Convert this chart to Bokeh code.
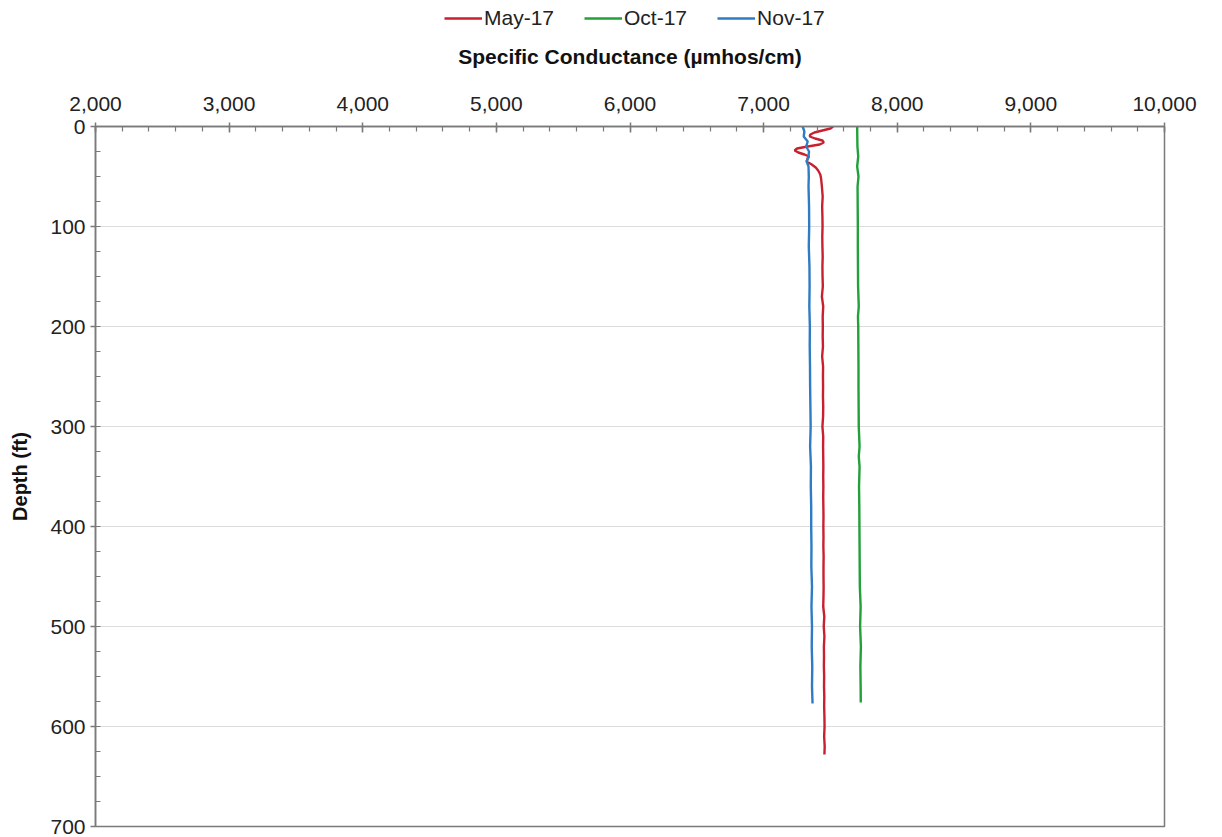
from bokeh.plotting import figure
from bokeh.layouts import column
from bokeh.models import (Range1d, LinearAxis, NumeralTickFormatter, FixedTicker,
                          Legend, LegendItem, ColumnDataSource, Grid)
from bokeh.embed import file_html
from bokeh.resources import INLINE

# ---------------- data ----------------
series_names = ["May-17", "Oct-17", "Nov-17"]
series_colors = ["#c8202f", "#22a03a", "#2f7cc4"]

may_depth = [0, 2, 4, 6, 8, 10, 12, 14, 16, 18, 20, 22, 24, 26, 28, 30, 32, 35, 38, 41, 44, 48, 52,
             60, 70, 80, 90, 100, 110, 120, 130, 140, 150, 160, 170, 180, 190, 200, 210, 220, 230,
             240, 250, 260, 270, 280, 290, 300, 310, 320, 330, 340, 350, 360, 370, 380, 390, 400,
             410, 420, 430, 440, 450, 460, 470, 480, 490, 500, 510, 520, 530, 540, 550, 560, 570,
             580, 590, 600, 610, 620, 628]
may_cond = [7520, 7500, 7440, 7380, 7350, 7345, 7385, 7440, 7450, 7420, 7330, 7250, 7232, 7260,
            7305, 7340, 7330, 7322, 7360, 7390, 7408, 7424, 7430,
            7436, 7442, 7438, 7440, 7441, 7439, 7440, 7442, 7440, 7441, 7443, 7436, 7446, 7442,
            7443, 7442, 7444, 7438, 7445, 7444, 7445, 7444, 7446, 7445, 7440, 7446, 7445, 7446,
            7447, 7446, 7447, 7446, 7447, 7448, 7447, 7448, 7447, 7449, 7448, 7448, 7449, 7448,
            7446, 7454, 7450, 7455, 7451, 7452, 7451, 7453, 7452, 7454, 7453, 7455, 7456, 7453,
            7457, 7455]

oct_depth = [0, 20, 30, 40, 50, 60, 80, 100, 120, 140, 160, 180, 190, 200, 220, 240, 260, 280,
             300, 320, 330, 340, 360, 380, 400, 420, 440, 460, 480, 500, 520, 540, 560, 576]
oct_cond = [7700, 7702, 7708, 7700, 7710, 7703, 7704, 7705, 7705, 7706, 7707, 7712, 7706, 7708,
            7709, 7710, 7710, 7711, 7712, 7718, 7712, 7718, 7714, 7716, 7717, 7718, 7719, 7720,
            7726, 7722, 7728, 7724, 7726, 7727]

nov_depth = [0, 5, 10, 15, 20, 25, 30, 35, 40, 50, 60, 80, 100, 120, 140, 160, 180, 200, 220,
             240, 260, 280, 300, 320, 340, 360, 380, 400, 420, 440, 460, 480, 500, 520, 540, 560, 577]
nov_cond = [7292, 7305, 7300, 7330, 7318, 7340, 7335, 7322, 7336, 7338, 7336, 7340, 7341, 7338,
            7343, 7344, 7342, 7346, 7345, 7347, 7348, 7350, 7352, 7348, 7354, 7353, 7356, 7356,
            7358, 7357, 7362, 7358, 7362, 7360, 7364, 7362, 7366]

x_ticks = [2000, 3000, 4000, 5000, 6000, 7000, 8000, 9000, 10000]
y_ticks = [0, 100, 200, 300, 400, 500, 600, 700]

FONT = "Liberation Sans"
AXIS_COL = "#7a7a7a"
LEG_H = 40

p = figure(width=1214, height=836 - LEG_H, output_backend="svg", toolbar_location=None,
           x_range=Range1d(2000, 10000), y_range=Range1d(700, 0),
           x_axis_location=None, y_axis_location=None,
           min_border_left=95, min_border_right=50, min_border_top=126 - LEG_H,
           min_border_bottom=10)

p.outline_line_color = AXIS_COL
p.outline_line_width = 1.5
p.background_fill_color = "white"
p.border_fill_color = "white"

xaxis = LinearAxis(ticker=FixedTicker(ticks=x_ticks,
                                      minor_ticks=list(range(2000, 10001, 200))),
                   formatter=NumeralTickFormatter(format="0,0"),
                   axis_label="Specific Conductance (µmhos/cm)")
xaxis.axis_line_color = AXIS_COL
xaxis.axis_line_width = 1.5
xaxis.major_tick_line_color = AXIS_COL
xaxis.major_tick_line_width = 1.5
xaxis.minor_tick_line_color = AXIS_COL
xaxis.minor_tick_line_width = 1.2
xaxis.major_tick_out = 4
xaxis.major_tick_in = 6
xaxis.minor_tick_out = 0
xaxis.minor_tick_in = 5
xaxis.major_label_text_font = FONT
xaxis.major_label_text_font_size = "21px"
xaxis.major_label_text_color = "#222222"
xaxis.major_label_standoff = 12
xaxis.axis_label_text_font = FONT
xaxis.axis_label_text_font_size = "21px"
xaxis.axis_label_text_font_style = "bold"
xaxis.axis_label_text_color = "#111111"
xaxis.axis_label_standoff = 26
p.add_layout(xaxis, "above")

yaxis = LinearAxis(ticker=FixedTicker(ticks=y_ticks,
                                      minor_ticks=list(range(0, 701, 25))),
                   axis_label="Depth (ft)")
yaxis.axis_line_color = AXIS_COL
yaxis.axis_line_width = 1.5
yaxis.major_tick_line_color = AXIS_COL
yaxis.major_tick_line_width = 1.5
yaxis.minor_tick_line_color = AXIS_COL
yaxis.minor_tick_line_width = 1.2
yaxis.major_tick_out = 5
yaxis.major_tick_in = 0
yaxis.minor_tick_out = 0
yaxis.minor_tick_in = 5
yaxis.major_label_text_font = FONT
yaxis.major_label_text_font_size = "21px"
yaxis.major_label_text_color = "#222222"
yaxis.major_label_standoff = 5
yaxis.axis_label_text_font = FONT
yaxis.axis_label_text_font_size = "20px"
yaxis.axis_label_text_font_style = "bold"
yaxis.axis_label_text_color = "#111111"
yaxis.axis_label_standoff = 16
p.add_layout(yaxis, "left")

p.xgrid.visible = False
p.ygrid.visible = False
hgrid = Grid(dimension=1, ticker=yaxis.ticker, grid_line_color="#dcdcdc", grid_line_width=1)
p.add_layout(hgrid)

data = [(may_cond, may_depth), (oct_cond, oct_depth), (nov_cond, nov_depth)]
sources = []
for (xs, ys), name, col in zip(data, series_names, series_colors):
    src = ColumnDataSource(dict(x=xs, y=ys))
    sources.append(src)
    p.line("x", "y", source=src, line_color=col, line_width=2.4)

# legend strip above the chart: same series, ranges set so that only the legend shows
lg = figure(width=1214, height=LEG_H, output_backend="svg", toolbar_location=None,
            x_range=Range1d(0, 1), y_range=Range1d(0, 1),
            x_axis_location=None, y_axis_location=None,
            min_border_left=0, min_border_right=0, min_border_top=0, min_border_bottom=0)
lg.outline_line_color = None
lg.xgrid.visible = False
lg.ygrid.visible = False
lg_renderers = []
for src, col in zip(sources, series_colors):
    lg_renderers.append(lg.line("x", "y", source=src, line_color=col, line_width=2.4))

legend = Legend(items=[LegendItem(label=n, renderers=[r]) for n, r in zip(series_names, lg_renderers)],
                orientation="horizontal", location=(349, 10),
                label_text_font=FONT, label_text_font_size="21px", label_text_color="#222222",
                glyph_width=38, glyph_height=16, label_standoff=2, spacing=30,
                border_line_color=None, background_fill_alpha=0,
                padding=4, margin=0)
lg.add_layout(legend, "center")

layout = column(lg, p, spacing=0)
open("out.html", "w").write(file_html(layout, INLINE))
